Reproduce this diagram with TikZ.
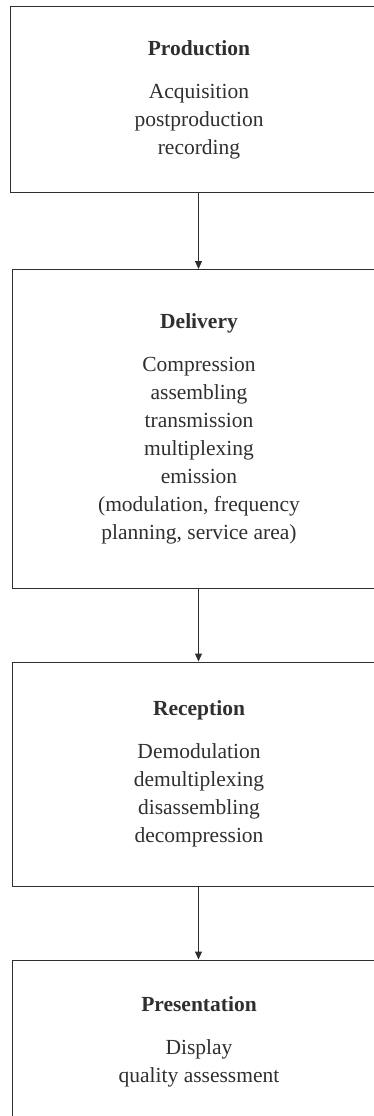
\documentclass[tikz,border=0pt]{standalone}
\usepackage{fontspec}
\setmainfont{Liberation Serif}
\usetikzlibrary{arrows.meta}
\definecolor{ink}{HTML}{2F2F2F}
\begin{document}
\begin{tikzpicture}[x=1pt,y=1pt,
  box/.style={draw=ink, line width=1pt, rectangle, align=center, text=ink,
    font=\fontsize{21.5}{28}\selectfont, inner sep=0pt},
  flow/.style={draw=ink, line width=1pt, -{Triangle[length=8pt,width=7pt]}}]
\useasboundingbox (0,0) rectangle (374,-1116);
\clip (0,0) rectangle (374,-1116);
\node[box, minimum width=377pt, minimum height=185pt] (b1) at (199,-99.5)
  {\textbf{Production}\\[15pt]Acquisition\\postproduction\\recording};
\node[box, minimum width=374pt, minimum height=318.5pt] (b2) at (199,-428.75)
  {\textbf{Delivery}\\[15pt]Compression\\assembling\\transmission\\multiplexing\\emission\\(modulation, frequency\\planning, service area)};
\node[box, minimum width=374pt, minimum height=224pt] (b3) at (199,-774)
  {\textbf{Reception}\\[15pt]Demodulation\\demultiplexing\\disassembling\\decompression};
\node[box, minimum width=374pt, minimum height=164pt] (b4) at (199,-1042)
  {\textbf{Presentation}\\[15pt]Display\\quality assessment};
\draw[flow] (b1.south -| 198.5,0) -- (b2.north -| 198.5,0);
\draw[flow] (b2.south -| 198.5,0) -- (b3.north -| 198.5,0);
\draw[flow] (b3.south -| 198.5,0) -- (b4.north -| 198.5,0);
\end{tikzpicture}
\end{document}
